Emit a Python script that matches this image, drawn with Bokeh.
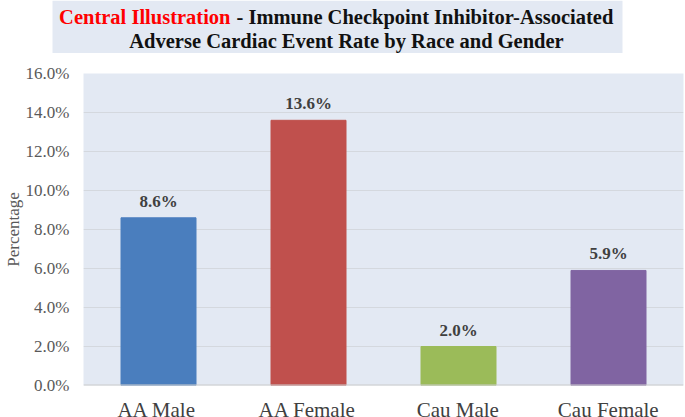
from bokeh.plotting import figure
from bokeh.models import ColumnDataSource, FactorRange, NumeralTickFormatter, Range1d
from bokeh.layouts import column
from bokeh.embed import file_html
from bokeh.resources import INLINE
from bokeh.core.properties import value

# ---- data ----
categories = ["AA Male", "AA Female", "Cau Male", "Cau Female"]
rates = [0.086, 0.136, 0.020, 0.059]
bar_colors = ["#4A7EBE", "#C0504D", "#9BBB59", "#8064A2"]
y_ticks = [0.0, 0.02, 0.04, 0.06, 0.08, 0.10, 0.12, 0.14, 0.16]
title_red = "Central Illustration"
title_black = "- Immune Checkpoint Inhibitor-Associated"
title_line2 = "Adverse Cardiac Event Rate by Race and Gender"
y_label = "Percentage"

W = 685
TITLE_H, MAIN_H, LAB_H = 53, 342, 22
L, R = 81, 2
SERIF = "Liberation Serif"
BG = "#E3E9F3"


def bare(fig):
    fig.outline_line_color = None
    fig.background_fill_color = "white"
    fig.border_fill_color = "white"
    fig.xgrid.visible = False
    fig.ygrid.visible = False


# ---------- title strip ----------
pt = figure(width=W, height=TITLE_H, x_range=Range1d(0, W), y_range=Range1d(TITLE_H, 0),
            output_backend="svg", toolbar_location=None, x_axis_location=None,
            y_axis_location=None, min_border=0, min_border_left=0, min_border_right=0,
            min_border_top=0, min_border_bottom=0)
pt.title.visible = False
pt.frame_align = False
bare(pt)
pt.quad(left=[52], right=[622], top=[0], bottom=[TITLE_H], fill_color=BG, line_color=None)
pt.text(x=[230], y=[16], text=[title_red], text_align="right", text_baseline="alphabetic",
        text_font=value(SERIF), text_font_style="bold", text_font_size="20.5px",
        text_color="#FF0000")
pt.text(x=[236], y=[16], text=[title_black], text_align="left", text_baseline="alphabetic",
        text_font=value(SERIF), text_font_style="bold", text_font_size="20.5px",
        text_color="#111111")
pt.text(x=[346], y=[40], text=[title_line2], text_align="center", text_baseline="alphabetic",
        text_font=value(SERIF), text_font_style="bold", text_font_size="20.5px",
        text_color="#111111")

# ---------- main chart ----------
src = ColumnDataSource(dict(
    cat=categories, val=rates, color=bar_colors,
    lab=[f"{v*100:.1f}%" for v in rates],
))

p = figure(width=W, height=MAIN_H, x_range=FactorRange(*categories, range_padding=0),
           y_range=(0, 0.16), output_backend="svg", toolbar_location=None,
           x_axis_location=None,
           min_border_left=L, min_border_right=R, min_border_top=20, min_border_bottom=10)
p.title.visible = False
p.frame_align = False
p.background_fill_color = BG
p.border_fill_color = "white"
p.outline_line_color = None

p.vbar(x="cat", top="val", width=0.5, color="color", source=src)
p.text(x="cat", y="val", text="lab", source=src, text_align="center",
       text_baseline="bottom", y_offset=-7, text_font=value(SERIF),
       text_font_style="bold", text_font_size="17px", text_color="#404040")
p.hspan(y=[0], line_color="#CCCCCC", line_width=2)

p.yaxis.ticker = y_ticks
p.yaxis.formatter = NumeralTickFormatter(format="0.0%")
p.yaxis.axis_line_color = None
p.yaxis.major_tick_line_color = None
p.yaxis.minor_tick_line_color = None
p.yaxis.major_tick_in = 0
p.yaxis.major_tick_out = 0
p.yaxis.minor_tick_in = 0
p.yaxis.minor_tick_out = 0
p.yaxis.major_label_text_font = SERIF
p.yaxis.major_label_text_font_size = "17px"
p.yaxis.major_label_text_color = "#595959"
p.yaxis.major_label_standoff = 14
p.yaxis.axis_label = y_label
p.yaxis.axis_label_text_font = SERIF
p.yaxis.axis_label_text_font_size = "17px"
p.yaxis.axis_label_text_font_style = "normal"
p.yaxis.axis_label_text_color = "#595959"
p.yaxis.axis_label_standoff = 0

p.xgrid.grid_line_color = None
p.ygrid.grid_line_color = "#D4D8DE"

# ---------- category labels strip (shares the chart's x scale) ----------
pl = figure(width=W, height=LAB_H, x_range=p.x_range, y_range=Range1d(LAB_H, 0),
            output_backend="svg", toolbar_location=None, x_axis_location=None,
            y_axis_location=None, min_border_left=L, min_border_right=R,
            min_border_top=0, min_border_bottom=0)
pl.title.visible = False
pl.frame_align = False
bare(pl)
pl.text(x=categories, y=[14] * len(categories), text=categories, text_align="center",
        text_baseline="alphabetic", text_font=value(SERIF), text_font_size="21px",
        text_color="#404040")

layout = column(pt, p, pl, spacing=0)
open("out.html", "w").write(file_html(layout, INLINE))
